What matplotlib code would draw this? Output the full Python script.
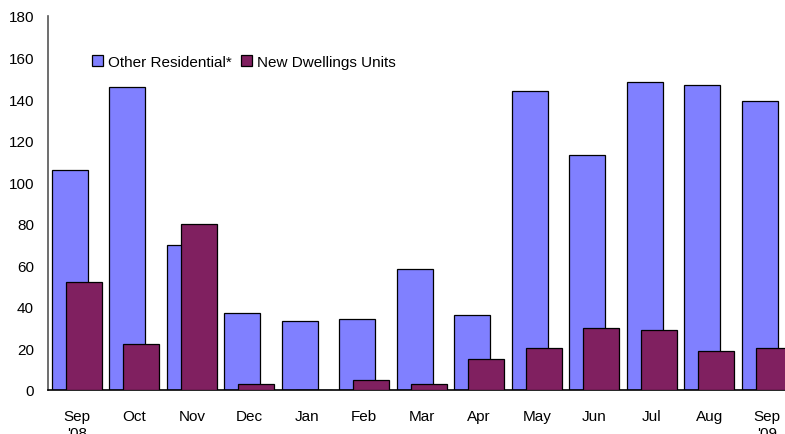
import matplotlib

matplotlib.use("Agg")
import matplotlib.pyplot as plt
import numpy as np

plt.rcParams["font.family"] = ["Liberation Sans", "DejaVu Sans"]

months = ["Sep\n'08", "Oct", "Nov", "Dec", "Jan", "Feb", "Mar",
          "Apr", "May", "Jun", "Jul", "Aug", "Sep\n'09"]
other_residential = [106, 146, 70, 37, 33, 34, 58, 36, 144, 113, 148, 147, 139]
new_dwellings = [52, 22, 80, 3, 0, 5, 3, 15, 20, 30, 29, 19, 20]

BLUE = "#8080ff"
MAROON = "#802060"

fig = plt.figure(figsize=(7.85, 4.35), dpi=100)
# axes runs past the right edge, like the cropped original
ax = fig.add_axes([48 / 785, 44 / 435, 13 * 57.5 / 785, 374 / 435])

x = np.arange(len(months))
width = 0.63
shift = 0.122
ax.bar(x - shift, other_residential, width, color=BLUE, edgecolor="black",
       linewidth=0.9, label="Other Residential*", zorder=2)
ax.bar(x + shift, new_dwellings, width, color=MAROON, edgecolor="black",
       linewidth=0.9, label="New Dwellings Units", zorder=3)

ax.set_xlim(-0.5, len(months) - 0.5)
ax.set_ylim(0, 180)
ax.set_yticks(range(0, 181, 20))
ax.set_xticks(x)
ax.set_xticklabels(months, va="top", linespacing=1.2)
ax.tick_params(axis="both", length=0, labelsize=11)
ax.tick_params(axis="x", pad=14)
ax.tick_params(axis="y", pad=10)

for side in ("top", "right"):
    ax.spines[side].set_visible(False)
ax.spines["left"].set_color("#555555")
ax.spines["bottom"].set_color("black")
ax.spines["left"].set_linewidth(1.2)
ax.spines["bottom"].set_linewidth(1.2)

ax.legend(loc="upper left", bbox_to_anchor=(92 / 785, 1 - 56 / 435),
          bbox_transform=fig.transFigure, ncol=2, frameon=False,
          handlelength=0.75, handleheight=0.75, handletextpad=0.3,
          columnspacing=0.6, borderpad=0, borderaxespad=0, fontsize=11)

fig.savefig("out.png", dpi=100)
